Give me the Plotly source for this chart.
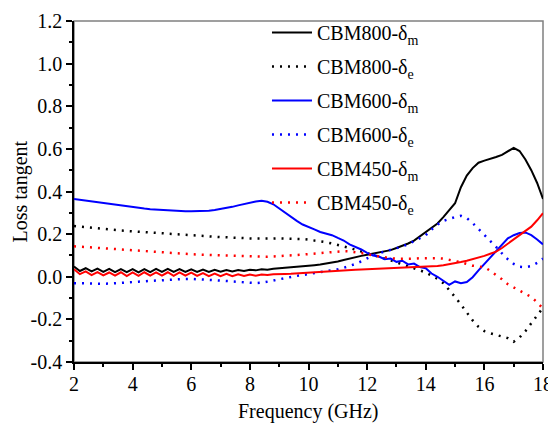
import plotly.graph_objects as go

# Frequency grid (GHz), 0.2 GHz step
freq = [round(2 + 0.2 * i, 1) for i in range(81)]

cbm800_m = [
    0.048, 0.027, 0.040, 0.025, 0.038,
    0.023, 0.037, 0.022, 0.036, 0.022,
    0.036, 0.021, 0.036, 0.022, 0.037,
    0.023, 0.037, 0.023, 0.036, 0.023,
    0.035, 0.023, 0.034, 0.023, 0.033,
    0.024, 0.032, 0.025, 0.032, 0.027,
    0.033, 0.030, 0.035, 0.033, 0.037,
    0.039, 0.042, 0.044, 0.046, 0.048,
    0.051, 0.054, 0.057, 0.061, 0.066,
    0.072, 0.079, 0.086, 0.092, 0.098,
    0.103, 0.108, 0.112, 0.118, 0.125,
    0.135, 0.145, 0.156, 0.170, 0.190,
    0.210, 0.228, 0.250, 0.280, 0.310,
    0.345, 0.420, 0.475, 0.510, 0.535,
    0.545, 0.552, 0.562, 0.572, 0.588,
    0.605, 0.590, 0.550, 0.500, 0.440,
    0.365,
]

cbm800_e = [
    0.238, 0.235, 0.232, 0.229, 0.226,
    0.223, 0.221, 0.219, 0.217, 0.215,
    0.213, 0.211, 0.209, 0.207, 0.205,
    0.203, 0.201, 0.199, 0.197, 0.195,
    0.194, 0.192, 0.190, 0.189, 0.187,
    0.186, 0.185, 0.183, 0.182, 0.181,
    0.180, 0.179, 0.178, 0.178, 0.179,
    0.180, 0.180, 0.180, 0.179, 0.177,
    0.174, 0.171, 0.167, 0.162, 0.156,
    0.150, 0.143, 0.135, 0.127, 0.118,
    0.109, 0.101, 0.093, 0.085, 0.077,
    0.068, 0.060, 0.050, 0.040, 0.030,
    0.020, 0.005, -0.010, -0.030, -0.060,
    -0.095, -0.130, -0.170, -0.205, -0.235,
    -0.255, -0.265, -0.272, -0.278, -0.288,
    -0.305, -0.285, -0.255, -0.220, -0.180,
    -0.145,
]

cbm600_m = [
    0.365, 0.361, 0.357, 0.353, 0.349,
    0.345, 0.341, 0.337, 0.333, 0.329,
    0.326, 0.323, 0.320, 0.317, 0.315,
    0.313, 0.311, 0.309, 0.308, 0.307,
    0.307, 0.307, 0.308, 0.310, 0.313,
    0.317, 0.322, 0.328, 0.335, 0.342,
    0.349, 0.353, 0.357, 0.352, 0.340,
    0.320, 0.300, 0.280, 0.262, 0.245,
    0.232, 0.222, 0.210, 0.203, 0.195,
    0.182, 0.170, 0.152, 0.140, 0.128,
    0.112, 0.100, 0.095, 0.082, 0.085,
    0.070, 0.075, 0.058, 0.062, 0.045,
    0.040, 0.015, 0.000, -0.017, -0.038,
    -0.022, -0.030, -0.025, -0.002, 0.030,
    0.060, 0.085, 0.120, 0.150, 0.180,
    0.195, 0.205, 0.208, 0.195, 0.175,
    0.152,
]

cbm600_e = [
    -0.030, -0.031, -0.032, -0.033, -0.033,
    -0.033, -0.032, -0.031, -0.029, -0.027,
    -0.025, -0.023, -0.021, -0.019, -0.017,
    -0.015, -0.013, -0.012, -0.011, -0.010,
    -0.010, -0.011, -0.012, -0.014, -0.016,
    -0.018, -0.020, -0.022, -0.025, -0.028,
    -0.030, -0.030, -0.028, -0.024, -0.018,
    -0.012, -0.006, 0.000, 0.004, 0.008,
    0.012, 0.016, 0.020, 0.024, 0.029,
    0.035, 0.042, 0.050, 0.060, 0.072,
    0.088, 0.100, 0.110, 0.118, 0.124,
    0.132, 0.142, 0.153, 0.166, 0.180,
    0.195, 0.222, 0.245, 0.262, 0.272,
    0.280, 0.286, 0.275, 0.252, 0.225,
    0.195, 0.170, 0.140, 0.110, 0.082,
    0.060, 0.047, 0.045, 0.050, 0.065,
    0.085,
]

cbm450_m = [
    0.035, 0.012, 0.025, 0.008, 0.022,
    0.006, 0.020, 0.005, 0.021, 0.003,
    0.020, 0.004, 0.021, 0.005, 0.020,
    0.005, 0.021, 0.004, 0.020, 0.005,
    0.019, 0.004, 0.017, 0.003, 0.015,
    0.003, 0.014, 0.003, 0.012, 0.004,
    0.011, 0.005, 0.011, 0.008, 0.012,
    0.011, 0.013, 0.014, 0.016, 0.018,
    0.019, 0.021, 0.023, 0.025, 0.027,
    0.029, 0.031, 0.032, 0.033, 0.034,
    0.035, 0.036, 0.037, 0.038, 0.039,
    0.040, 0.041, 0.042, 0.043, 0.044,
    0.045, 0.047, 0.050, 0.054, 0.058,
    0.063, 0.069, 0.075, 0.082, 0.090,
    0.098, 0.108, 0.118, 0.135, 0.155,
    0.175, 0.195, 0.215, 0.235, 0.265,
    0.298,
]

cbm450_e = [
    0.143, 0.141, 0.139, 0.137, 0.135,
    0.133, 0.131, 0.129, 0.127, 0.125,
    0.123, 0.121, 0.119, 0.117, 0.115,
    0.113, 0.111, 0.110, 0.108, 0.107,
    0.105, 0.104, 0.103, 0.102, 0.101,
    0.100, 0.099, 0.098, 0.097, 0.096,
    0.095, 0.094, 0.094, 0.094, 0.095,
    0.096, 0.098, 0.100, 0.102, 0.104,
    0.106, 0.109, 0.112, 0.115, 0.117,
    0.119, 0.120, 0.119, 0.116, 0.112,
    0.107, 0.100, 0.095, 0.090, 0.087,
    0.085, 0.084, 0.084, 0.085, 0.087,
    0.088, 0.088, 0.087, 0.085, 0.080,
    0.075, 0.068, 0.060, 0.052, 0.048,
    0.045, 0.028, 0.010, -0.012, -0.035,
    -0.050, -0.065, -0.080, -0.095, -0.120,
    -0.150,
]

x_tickvals = [2, 4, 6, 8, 10, 12, 14, 16, 18]
x_ticktext = ["2", "4", "6", "8", "10", "12", "14", "16", "18"]
y_tickvals = [-0.4, -0.2, 0.0, 0.2, 0.4, 0.6, 0.8, 1.0, 1.2]
y_ticktext = ["-0.4", "-0.2", "0.0", "0.2", "0.4", "0.6", "0.8", "1.0", "1.2"]
x_title = "Frequency (GHz)"
y_title = "Loss tangent"

SUB = "<sub>%s</sub>"
series = [
    ("CBM800-δ" + SUB % "m", cbm800_m, "#000000", "solid"),
    ("CBM800-δ" + SUB % "e", cbm800_e, "#000000", "2px,6px"),
    ("CBM600-δ" + SUB % "m", cbm600_m, "#0000ff", "solid"),
    ("CBM600-δ" + SUB % "e", cbm600_e, "#0000ff", "2px,6px"),
    ("CBM450-δ" + SUB % "m", cbm450_m, "#ff0000", "solid"),
    ("CBM450-δ" + SUB % "e", cbm450_e, "#ff0000", "2px,6px"),
]

fig = go.Figure()
for i, (name, vals, color, dash) in enumerate(series):
    fig.add_trace(go.Scatter(
        x=freq, y=vals, mode="lines", name=name,
        legendgroup="g%d" % i,
        line=dict(color=color, width=2 if dash == "solid" else 2.5, dash=dash),
    ))

FONT = "Liberation Serif"
# The page body adds an 8 px offset, so the figure is 8 px smaller than the window.
W, H = 548, 418
fig.update_layout(
    template="none",
    width=W, height=H,
    margin=dict(l=66, r=13, t=13, b=64, autoexpand=False),
    paper_bgcolor="white", plot_bgcolor="white",
    font=dict(family=FONT, size=20, color="black"),
    showlegend=True,
    legend=dict(
        xref="container", yref="container",
        x=0.4726, y=0.988, xanchor="left", yanchor="top",
        bgcolor="rgba(0,0,0,0)", borderwidth=0,
        font=dict(family=FONT, size=20, color="black"),
        tracegroupgap=5, itemwidth=40,
    ),
    shapes=[dict(type="rect", xref="paper", yref="paper", x0=0, x1=1, y0=0, y1=1,
                 line=dict(color="#808080", width=1.5), layer="below")],
    annotations=[
        dict(text=x_title, xref="paper", yref="paper", x=0.5, y=-0.1466,
             xanchor="center", yanchor="middle", showarrow=False,
             font=dict(family=FONT, size=20, color="black")),
        dict(text=y_title, xref="paper", yref="paper", x=-0.1151, y=0.5,
             xanchor="center", yanchor="middle", showarrow=False, textangle=-90,
             font=dict(family=FONT, size=20, color="black")),
    ],
)
fig.update_xaxes(
    range=[2, 18], tickmode="array", tickvals=x_tickvals, ticktext=x_ticktext,
    ticks="outside", ticklen=6, tickwidth=1.5, tickcolor="black",
    minor=dict(ticks="outside", ticklen=3, dtick=1, tickcolor="black", tickwidth=1.5),
    showline=True, linecolor="black", linewidth=1.5, mirror=False,
    showgrid=False, zeroline=False, automargin=False, ticklabelstandoff=-3,
    tickfont=dict(family=FONT, size=20),
)
fig.update_yaxes(
    range=[-0.4, 1.2], tickmode="array", tickvals=y_tickvals, ticktext=y_ticktext,
    ticks="outside", ticklen=6, tickwidth=1.5, tickcolor="black",
    minor=dict(ticks="outside", ticklen=3, dtick=0.1, tickcolor="black", tickwidth=1.5),
    showline=True, linecolor="black", linewidth=1.5, mirror=False,
    showgrid=False, zeroline=False, automargin=False,
    tickfont=dict(family=FONT, size=20),
)

fig.write_html("out.html")
